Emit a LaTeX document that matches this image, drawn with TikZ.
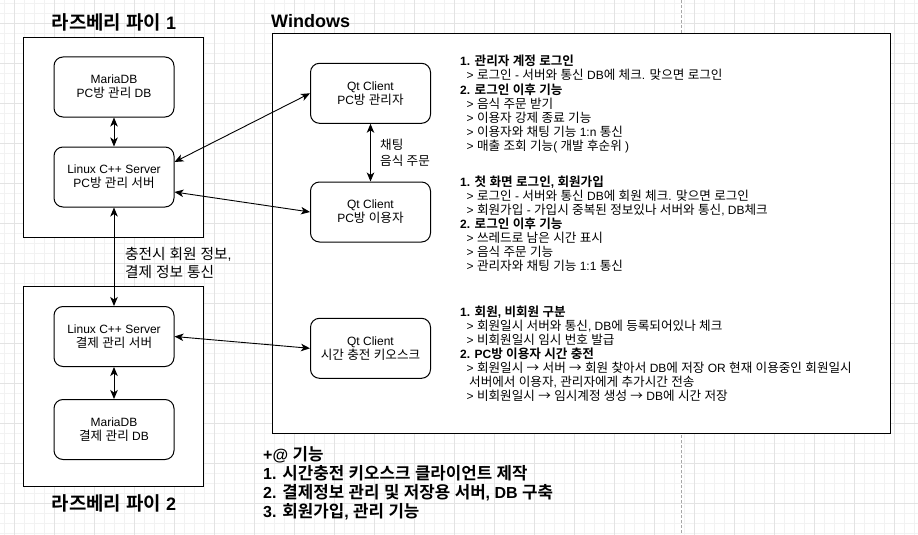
\documentclass[tikz,border=0pt]{standalone}
\usepackage{fontspec}
\setmainfont{Liberation Sans}
\newfontfamily\krfont[Scale=1.05,BoldFont={Noto Sans CJK KR Bold}]{Noto Sans CJK KR}
\usetikzlibrary{arrows.meta}
\XeTeXinterchartokenstate=1
\newXeTeXintercharclass\krclass
\newcount\kc
\kc="AC00
\loop
\XeTeXcharclass\kc=\krclass
\advance\kc by 1
\ifnum\kc<"D7A4
\repeat
\XeTeXcharclass"2192=\krclass
\XeTeXinterchartoks 0 \krclass = {\krfont}
\XeTeXinterchartoks 4095 \krclass = {\krfont}
\XeTeXinterchartoks \krclass 0 = {\rmfamily}
\XeTeXinterchartoks \krclass 4095 = {\rmfamily}
\tikzset{
  bigbox/.style={draw, fill=white, line width=1pt, inner sep=0pt},
  rbox/.style={draw, fill=white, line width=1pt, rounded corners=9pt, minimum width=120pt, minimum height=60pt, align=center, inner sep=0pt, font=\fontsize{12}{14}\selectfont},
  ttl/.style={font=\bfseries\fontsize{18}{20}\selectfont, inner sep=0pt},
  txt/.style={font=\fontsize{12}{14}\selectfont, anchor=base west, inner sep=0pt},
  btxt/.style={font=\bfseries\fontsize{12}{14}\selectfont, anchor=base west, inner sep=0pt},
  ctxt/.style={font=\bfseries\fontsize{16}{19}\selectfont, anchor=base west, inner sep=0pt},
  lbl/.style={align=left, anchor=west, inner sep=0pt},
  arr/.style={line width=0.9pt, {Stealth[length=9pt,width=7.5pt,inset=2.5pt]}-{Stealth[length=9pt,width=7.5pt,inset=2.5pt]}},
  minorgrid/.style={draw=black!5, line width=1pt},
  majorgrid/.style={draw=black!11, line width=1pt},
}
\begin{document}
\begin{tikzpicture}[x=1pt,y=-1pt]
\useasboundingbox (0,0) rectangle (918,535);
\fill[white] (0,0) rectangle (918,535);
% background grid
\foreach \x in {4.5,14.5,...,914.5} \draw[minorgrid] (\x,0) -- (\x,535);
\foreach \y in {3.5,13.5,...,533.5} \draw[minorgrid] (0,\y) -- (918,\y);
\foreach \x in {14.5,54.5,...,894.5} \draw[majorgrid] (\x,0) -- (\x,535);
\foreach \y in {23.5,63.5,...,503.5} \draw[majorgrid] (0,\y) -- (918,\y);
\draw[black!35, line width=1pt, dash pattern=on 3pt off 2pt] (681.5,0) -- (681.5,535);

% containers
\node[bigbox, minimum width=180pt, minimum height=200pt] (pi1) at (113.5,137.5) {};
\node[bigbox, minimum width=180pt, minimum height=200pt] (pi2) at (113.5,386.5) {};
\node[bigbox, minimum width=618pt, minimum height=400pt] (win) at (581,233.5) {};

\node[ttl, anchor=base] (t1) at (114,29.3) {라즈베리 파이 1};
\node[ttl, anchor=base] (t2) at (114,510.3) {라즈베리 파이 2};
\node[ttl, anchor=base west] (tw) at (271,27.3) {Windows};

% inner nodes
\node[rbox] (db1) at (114,87) {MariaDB\\PC방 관리 DB};
\node[rbox] (s1) at (114,177) {Linux C++ Server\\PC방 관리 서버};
\node[rbox] (s2) at (114,336.5) {Linux C++ Server\\결제 관리 서버};
\node[rbox] (db2) at (114,429.5) {MariaDB\\결제 관리 DB};
\node[rbox] (qa) at (370.5,93.3) {Qt Client\\PC방 관리자};
\node[rbox] (qu) at (370.5,212) {Qt Client\\PC방 이용자};
\node[rbox] (qk) at (370.5,348.3) {Qt Client\\시간 충전 키오스크};

% connectors
\draw[arr] (db1.south) -- (s1.north);
\draw[arr] (s1.south) -- (s2.north);
\draw[arr] (s2.south) -- (db2.north);
\draw[arr] (qa.south) -- (qu.north);
\draw[arr] ([yshift=15pt]s1.east) -- (qa.west);
\draw[arr] ([yshift=-15pt]s1.east) -- (qu.west);
\draw[arr] (s2.east) -- (qk.west);

\node[lbl, font=\fontsize{14}{17.5}\selectfont] (lab1) at (125,263) {충전시 회원 정보,\\결제 정보 통신};
\node[lbl, font=\fontsize{12}{15.5}\selectfont] (lab2) at (380,153) {채팅\\음식 주문};

% block 1
\node[btxt] (b1a) at (460,66) {1. 관리자 계정 로그인};
\node[txt] (b1b) at (466.5,80) {> 로그인 - 서버와 통신 DB에 체크. 맞으면 로그인};
\node[btxt] (b1c) at (460,94) {2. 로그인 이후 기능};
\node[txt] (b1d) at (466.5,108) {> 음식 주문 받기};
\node[txt] (b1e) at (466.5,122) {> 이용자 강제 종료 기능};
\node[txt] (b1f) at (466.5,136) {> 이용자와 채팅 기능 1:n 통신};
\node[txt] (b1g) at (466.5,150) {> 매출 조회 기능( 개발 후순위 )};
% block 2
\node[btxt] (b2a) at (460,186) {1. 첫 화면 로그인, 회원가입};
\node[txt] (b2b) at (466.5,200) {> 로그인 - 서버와 통신 DB에 회원 체크. 맞으면 로그인};
\node[txt] (b2c) at (466.5,214) {> 회원가입 - 가입시 중복된 정보있나 서버와 통신, DB체크};
\node[btxt] (b2d) at (460,228) {2. 로그인 이후 기능};
\node[txt] (b2e) at (466.5,242) {> 쓰레드로 남은 시간 표시};
\node[txt] (b2f) at (466.5,256) {> 음식 주문 기능};
\node[txt] (b2g) at (466.5,270) {> 관리자와 채팅 기능 1:1 통신};
% block 3
\node[btxt] (b3a) at (460,316) {1. 회원, 비회원 구분};
\node[txt] (b3b) at (466.5,330) {> 회원일시 서버와 통신, DB에 등록되어있나 체크};
\node[txt] (b3c) at (466.5,344) {> 비회원일시 임시 번호 발급};
\node[btxt] (b3d) at (460,358) {2. PC방 이용자 시간 충전};
\node[txt] (b3e) at (466.5,372) {> 회원일시 → 서버 → 회원 찾아서 DB에 저장 OR 현재 이용중인 회원일시};
\node[txt] (b3f) at (469,386) {서버에서 이용자, 관리자에게 추가시간 전송};
\node[txt] (b3g) at (466.5,400) {> 비회원일시 → 임시계정 생성 → DB에 시간 저장};

% bottom list
\node[ctxt] (c1) at (263,460) {+@ 기능};
\node[ctxt] (c2) at (263,479) {1. 시간충전 키오스크 클라이언트 제작};
\node[ctxt] (c3) at (263,498) {2. 결제정보 관리 및 저장용 서버, DB 구축};
\node[ctxt] (c4) at (263,517) {3. 회원가입, 관리 기능};
\end{tikzpicture}
\end{document}
